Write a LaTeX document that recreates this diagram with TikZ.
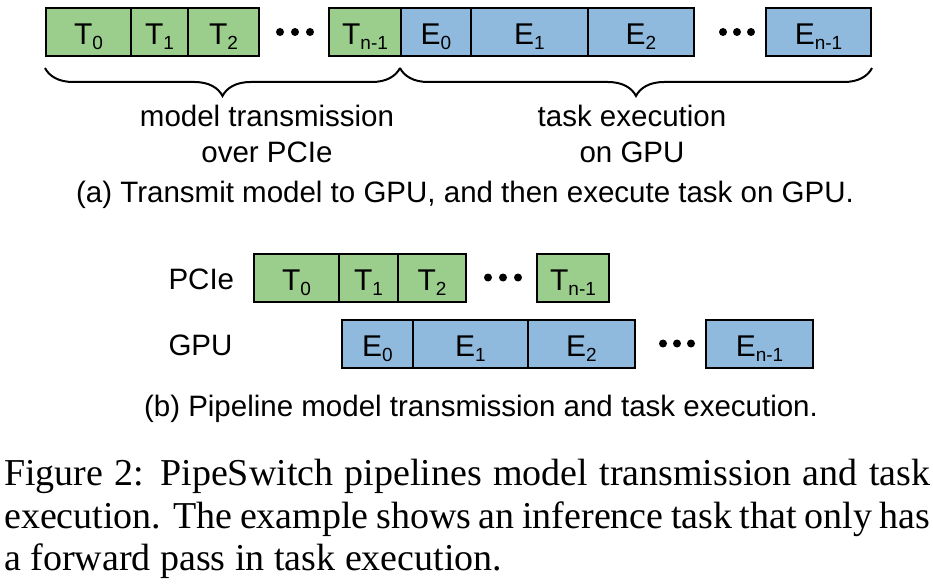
\documentclass[tikz,border=0pt]{standalone}
\usepackage{fontspec}
\setmainfont{Liberation Sans}
\newfontfamily\capserif{Liberation Serif}
\usetikzlibrary{decorations.pathreplacing}

\definecolor{tgreen}{RGB}{155,205,140}
\definecolor{eblue}{RGB}{143,186,222}

% block label with lowered index
\newcommand{\lbl}[2]{#1\raisebox{-5pt}{\fontsize{19}{19}\selectfont #2}}

\tikzset{
  slot/.style={draw, line width=2pt, inner sep=0pt, minimum height=48pt,
    text height=26pt, text depth=0pt, font=\fontsize{30}{30}\selectfont},
  trans/.style={slot, fill=tgreen},
  exec/.style={slot, fill=eblue},
  note/.style={font=\fontsize{29.5}{36}\selectfont},
  curly/.style={decorate, decoration={brace, amplitude=28pt}, line width=2pt},
}

\begin{document}
\begin{tikzpicture}[x=1pt, y=-1pt]
\useasboundingbox (0,0) rectangle (933,588);

% (a) sequential
\foreach \n/\x/\w/\s in {0/45/85/0, 1/130/57/1, 2/187/71/2, n/328/72/n-1}
  \node[trans, minimum width=\w pt, anchor=west] (ta\n) at (\x,32) {\lbl{T}{\s}};
\foreach \n/\x/\w/\s in {0/400/70/0, 1/470/117/1, 2/587/106/2, n/765/105/n-1}
  \node[exec, minimum width=\w pt, anchor=west] (ea\n) at (\x,32) {\lbl{E}{\s}};
\foreach \x in {280,295,310,723,737,751}
  \fill (\x,32) circle[radius=4pt];

\coordinate (bl) at (45,68);
\coordinate (bm) at (400,68);
\coordinate (br) at (872,68);
\draw[curly] (bm) -- (bl);
\draw[curly] (br) -- (bm);

\node[note, anchor=base] (mt1) at (267,127) {model transmission};
\node[note, anchor=base] (mt2) at (267,163) {over PCIe};
\node[note, anchor=base] (te1) at (632,127) {task execution};
\node[note, anchor=base] (te2) at (632,163) {on GPU};
\node[note, anchor=base] (capa) at (465,202) {(a) Transmit model to GPU, and then execute task on GPU.};

% (b) pipelined
\node[note, anchor=base west] (pcie) at (165,289) {PCIe};
\node[note, anchor=base west] (gpu) at (165,355) {GPU};
\foreach \n/\x/\w/\s in {0/253/85/0, 1/338/59/1, 2/397/68/2, n/536/72/n-1}
  \node[trans, minimum width=\w pt, anchor=west] (tb\n) at (\x,277.5) {\lbl{T}{\s}};
\foreach \n/\x/\w/\s in {0/341/71/0, 1/412/115/1, 2/527/107/2, n/705/107/n-1}
  \node[exec, minimum width=\w pt, anchor=west] (eb\n) at (\x,343.5) {\lbl{E}{\s}};
\foreach \x in {488,503,518}
  \fill (\x,277.5) circle[radius=4pt];
\foreach \x in {663,677,691}
  \fill (\x,343.5) circle[radius=4pt];

\node[note, anchor=base] (capb) at (481,416) {(b) Pipeline model transmission and task execution.};

% figure caption
\begin{scope}[every node/.style={anchor=base west, inner sep=0pt, font=\capserif\fontsize{38}{42}\selectfont}]
\node (fig1) at (4,485) {\makebox[926pt][s]{Figure 2: PipeSwitch pipelines model transmission and task}};
\node (fig2) at (4,528) {\makebox[926pt][s]{execution. The example shows an inference task that only has}};
\node (fig3) at (4,570) {a forward pass in task execution.};
\end{scope}
\end{tikzpicture}
\end{document}
